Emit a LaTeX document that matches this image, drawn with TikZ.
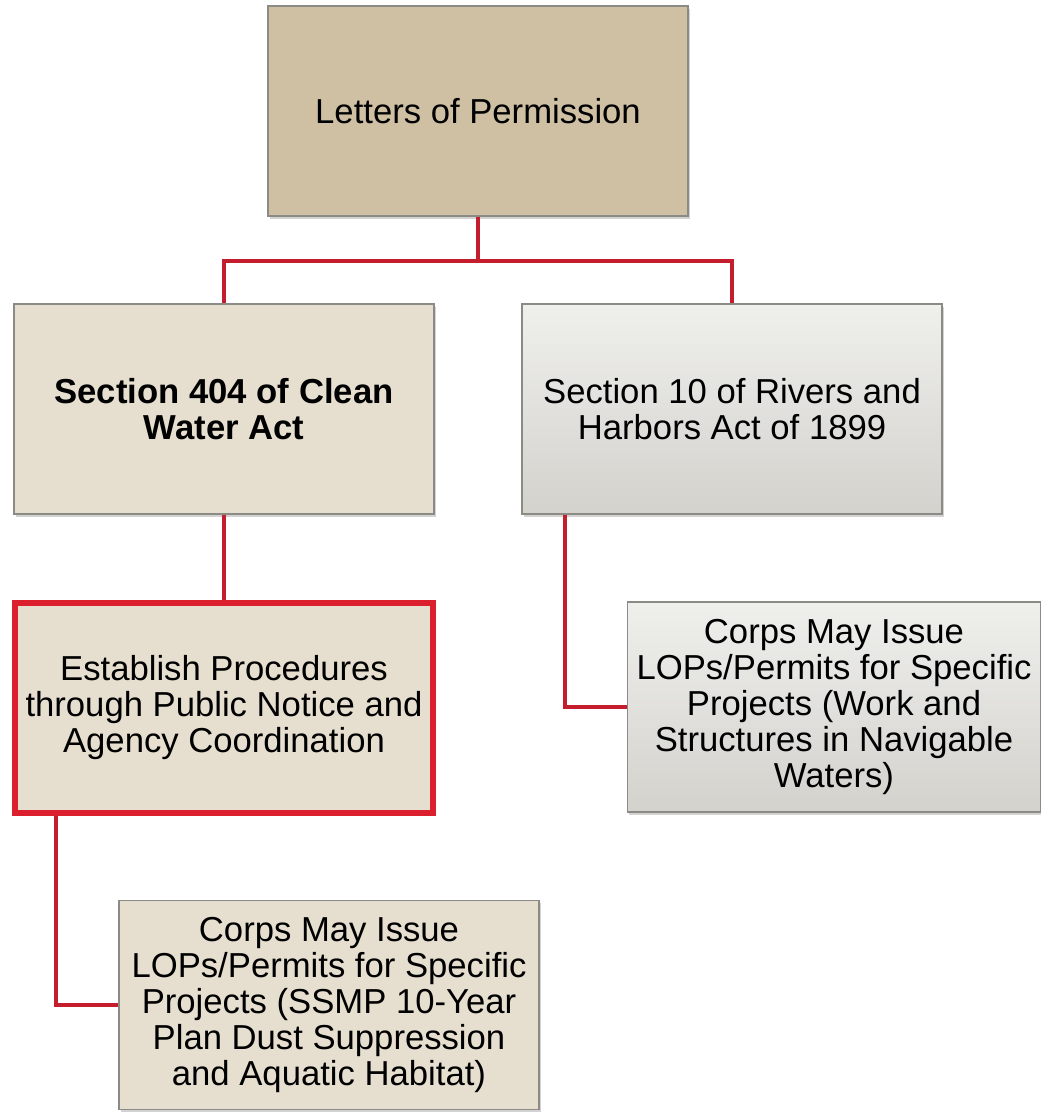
\documentclass[tikz,border=0pt]{standalone}
\usepackage{fontspec}
\setmainfont{Liberation Sans}
\usetikzlibrary{shadows}
\definecolor{tanfill}{HTML}{CFC0A3}
\definecolor{beige}{HTML}{E6DFD0}
\definecolor{greytop}{HTML}{EFEFEC}
\definecolor{greybot}{HTML}{D3D2CD}
\definecolor{boxline}{HTML}{8C8A85}
\definecolor{linkred}{HTML}{C41E2E}
\definecolor{framered}{HTML}{DC1F2F}
\tikzset{
  px/.style={x=0.75pt,y=-0.75pt},
  box/.style={draw=boxline, line width=1pt, align=center, inner sep=0pt,
     font=\fontsize{26pt}{27pt}\selectfont,
     drop shadow={opacity=0.35, shadow xshift=1.5pt, shadow yshift=-2pt}},
  tanbox/.style={box, fill=tanfill},
  beigebox/.style={box, fill=beige},
  greybox/.style={box, top color=greytop, bottom color=greybot},
  redframe/.style={draw=framered, line width=4.5pt},
  link/.style={draw=linkred, line width=3pt}
}
\begin{document}
\begin{tikzpicture}[px]
\useasboundingbox (0,0) rectangle (1040,1112);
% boxes (px coordinates: x right, y down)
\node[tanbox, minimum width=315pt, minimum height=157.5pt, font=\fontsize{26pt}{29pt}\selectfont] (lop) at (478,111) {Letters of Permission};
\node[beigebox, minimum width=315pt, minimum height=157.5pt, font=\fontsize{26pt}{27pt}\selectfont\bfseries] (s404) at (224,409) {Section 404 of Clean\\Water Act};
\node[greybox, minimum width=315pt, minimum height=157.5pt] (s10) at (732,409) {Section 10 of Rivers and\\Harbors Act of 1899};
\node[beigebox, redframe, minimum width=314pt, minimum height=158pt] (est) at (224,708) {Establish Procedures\\through Public Notice and\\Agency Coordination};
\node[greybox, minimum width=310pt, minimum height=157.5pt] (corpsr) at (834,707) {Corps May Issue\\LOPs/Permits for Specific\\Projects (Work and\\Structures in Navigable\\Waters)};
\node[beigebox, minimum width=315pt, minimum height=157pt] (corpsb) at (329,1005) {Corps May Issue\\LOPs/Permits for Specific\\Projects (SSMP 10-Year\\Plan Dust Suppression\\and Aquatic Habitat)};
% connectors
\coordinate (bus) at (478,261);
\draw[link] (lop.south) -- (bus);
\draw[link] (s404.north) |- (bus) -| (s10.north);
\draw[link] (s404.south) -- (est.north);
\draw[link] ([xshift=-125pt]s10.south) |- (corpsr.west);
\draw[link] ([xshift=-126pt]est.south) |- (corpsb.west);
\end{tikzpicture}
\end{document}
